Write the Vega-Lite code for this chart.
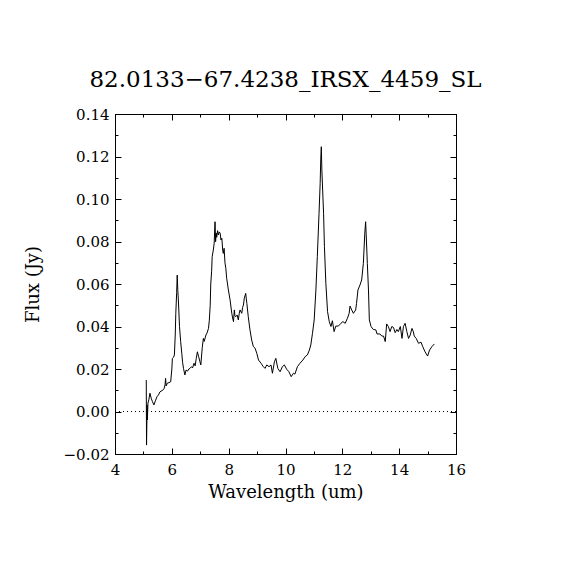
{
  "$schema": "https://vega.github.io/schema/vega-lite/v6.json",
  "autosize": "none",
  "width": 341,
  "height": 340,
  "padding": {"left": 115, "top": 114, "right": 114, "bottom": 116},
  "background": "white",
  "title": {
    "text": "82.0133−67.4238_IRSX_4459_SL",
    "font": "DejaVu Serif",
    "fontSize": 23,
    "fontWeight": "normal",
    "color": "black",
    "baseline": "alphabetic",
    "offset": -3
  },
  "data": {
    "values": [
      {"wavelength": 5.10, "flux": 0.0148},
      {"wavelength": 5.11, "flux": -0.0158},
      {"wavelength": 5.13, "flux": 0.0030},
      {"wavelength": 5.14, "flux": -0.0040},
      {"wavelength": 5.16, "flux": 0.0040},
      {"wavelength": 5.19, "flux": 0.0055},
      {"wavelength": 5.23, "flux": 0.0086},
      {"wavelength": 5.28, "flux": 0.0060},
      {"wavelength": 5.32, "flux": 0.0046},
      {"wavelength": 5.37, "flux": 0.0031},
      {"wavelength": 5.42, "flux": 0.0050},
      {"wavelength": 5.48, "flux": 0.0070},
      {"wavelength": 5.53, "flux": 0.0078},
      {"wavelength": 5.58, "flux": 0.0092},
      {"wavelength": 5.62, "flux": 0.0096},
      {"wavelength": 5.68, "flux": 0.0100},
      {"wavelength": 5.73, "flux": 0.0109},
      {"wavelength": 5.76, "flux": 0.0125},
      {"wavelength": 5.78, "flux": 0.0156},
      {"wavelength": 5.80, "flux": 0.0120},
      {"wavelength": 5.84, "flux": 0.0133},
      {"wavelength": 5.90, "flux": 0.0136},
      {"wavelength": 5.96, "flux": 0.0140},
      {"wavelength": 6.00, "flux": 0.0200},
      {"wavelength": 6.02, "flux": 0.0250},
      {"wavelength": 6.06, "flux": 0.0255},
      {"wavelength": 6.09, "flux": 0.0266},
      {"wavelength": 6.12, "flux": 0.0360},
      {"wavelength": 6.14, "flux": 0.0462},
      {"wavelength": 6.17, "flux": 0.0560},
      {"wavelength": 6.19, "flux": 0.0642},
      {"wavelength": 6.21, "flux": 0.0570},
      {"wavelength": 6.23, "flux": 0.0525},
      {"wavelength": 6.27, "flux": 0.0400},
      {"wavelength": 6.31, "flux": 0.0330},
      {"wavelength": 6.35, "flux": 0.0274},
      {"wavelength": 6.38, "flux": 0.0230},
      {"wavelength": 6.41, "flux": 0.0203},
      {"wavelength": 6.46, "flux": 0.0172},
      {"wavelength": 6.50, "flux": 0.0195},
      {"wavelength": 6.55, "flux": 0.0190},
      {"wavelength": 6.60, "flux": 0.0200},
      {"wavelength": 6.64, "flux": 0.0203},
      {"wavelength": 6.69, "flux": 0.0211},
      {"wavelength": 6.73, "flux": 0.0205},
      {"wavelength": 6.78, "flux": 0.0227},
      {"wavelength": 6.82, "flux": 0.0215},
      {"wavelength": 6.86, "flux": 0.0250},
      {"wavelength": 6.90, "flux": 0.0281},
      {"wavelength": 6.94, "flux": 0.0260},
      {"wavelength": 6.99, "flux": 0.0234},
      {"wavelength": 7.02, "flux": 0.0219},
      {"wavelength": 7.07, "flux": 0.0300},
      {"wavelength": 7.11, "flux": 0.0344},
      {"wavelength": 7.14, "flux": 0.0330},
      {"wavelength": 7.20, "flux": 0.0360},
      {"wavelength": 7.24, "flux": 0.0370},
      {"wavelength": 7.29, "flux": 0.0391},
      {"wavelength": 7.32, "flux": 0.0430},
      {"wavelength": 7.35, "flux": 0.0500},
      {"wavelength": 7.37, "flux": 0.0600},
      {"wavelength": 7.40, "flux": 0.0660},
      {"wavelength": 7.42, "flux": 0.0729},
      {"wavelength": 7.46, "flux": 0.0760},
      {"wavelength": 7.49, "flux": 0.0792},
      {"wavelength": 7.52, "flux": 0.0893},
      {"wavelength": 7.54, "flux": 0.0799},
      {"wavelength": 7.56, "flux": 0.0840},
      {"wavelength": 7.58, "flux": 0.0820},
      {"wavelength": 7.61, "flux": 0.0851},
      {"wavelength": 7.64, "flux": 0.0831},
      {"wavelength": 7.67, "flux": 0.0845},
      {"wavelength": 7.70, "flux": 0.0839},
      {"wavelength": 7.73, "flux": 0.0807},
      {"wavelength": 7.76, "flux": 0.0815},
      {"wavelength": 7.79, "flux": 0.0760},
      {"wavelength": 7.81, "flux": 0.0744},
      {"wavelength": 7.84, "flux": 0.0768},
      {"wavelength": 7.87, "flux": 0.0700},
      {"wavelength": 7.90, "flux": 0.0674},
      {"wavelength": 7.93, "flux": 0.0627},
      {"wavelength": 7.99, "flux": 0.0572},
      {"wavelength": 8.05, "flux": 0.0525},
      {"wavelength": 8.11, "flux": 0.0462},
      {"wavelength": 8.14, "flux": 0.0440},
      {"wavelength": 8.17, "flux": 0.0423},
      {"wavelength": 8.20, "flux": 0.0478},
      {"wavelength": 8.22, "flux": 0.0450},
      {"wavelength": 8.25, "flux": 0.0446},
      {"wavelength": 8.30, "flux": 0.0454},
      {"wavelength": 8.34, "flux": 0.0431},
      {"wavelength": 8.37, "flux": 0.0460},
      {"wavelength": 8.40, "flux": 0.0478},
      {"wavelength": 8.46, "flux": 0.0462},
      {"wavelength": 8.49, "flux": 0.0490},
      {"wavelength": 8.52, "flux": 0.0501},
      {"wavelength": 8.55, "flux": 0.0533},
      {"wavelength": 8.60, "flux": 0.0556},
      {"wavelength": 8.62, "flux": 0.0530},
      {"wavelength": 8.64, "flux": 0.0509},
      {"wavelength": 8.69, "flux": 0.0446},
      {"wavelength": 8.75, "flux": 0.0384},
      {"wavelength": 8.81, "flux": 0.0336},
      {"wavelength": 8.87, "flux": 0.0305},
      {"wavelength": 8.93, "flux": 0.0297},
      {"wavelength": 8.99, "flux": 0.0274},
      {"wavelength": 9.05, "flux": 0.0242},
      {"wavelength": 9.14, "flux": 0.0227},
      {"wavelength": 9.22, "flux": 0.0211},
      {"wavelength": 9.28, "flux": 0.0203},
      {"wavelength": 9.34, "flux": 0.0219},
      {"wavelength": 9.42, "flux": 0.0211},
      {"wavelength": 9.49, "flux": 0.0219},
      {"wavelength": 9.54, "flux": 0.0180},
      {"wavelength": 9.61, "flux": 0.0234},
      {"wavelength": 9.66, "flux": 0.0250},
      {"wavelength": 9.73, "flux": 0.0203},
      {"wavelength": 9.81, "flux": 0.0187},
      {"wavelength": 9.89, "flux": 0.0211},
      {"wavelength": 9.96, "flux": 0.0219},
      {"wavelength": 10.04, "flux": 0.0199},
      {"wavelength": 10.12, "flux": 0.0187},
      {"wavelength": 10.20, "flux": 0.0164},
      {"wavelength": 10.28, "flux": 0.0180},
      {"wavelength": 10.33, "flux": 0.0176},
      {"wavelength": 10.42, "flux": 0.0211},
      {"wavelength": 10.51, "flux": 0.0227},
      {"wavelength": 10.61, "flux": 0.0242},
      {"wavelength": 10.69, "flux": 0.0258},
      {"wavelength": 10.77, "flux": 0.0266},
      {"wavelength": 10.84, "flux": 0.0289},
      {"wavelength": 10.89, "flux": 0.0313},
      {"wavelength": 10.95, "flux": 0.0368},
      {"wavelength": 11.01, "flux": 0.0431},
      {"wavelength": 11.07, "flux": 0.0572},
      {"wavelength": 11.12, "flux": 0.0729},
      {"wavelength": 11.18, "flux": 0.0933},
      {"wavelength": 11.22, "flux": 0.1074},
      {"wavelength": 11.24, "flux": 0.1184},
      {"wavelength": 11.26, "flux": 0.1246},
      {"wavelength": 11.28, "flux": 0.1136},
      {"wavelength": 11.34, "flux": 0.0933},
      {"wavelength": 11.37, "flux": 0.0776},
      {"wavelength": 11.42, "flux": 0.0603},
      {"wavelength": 11.48, "flux": 0.0470},
      {"wavelength": 11.54, "flux": 0.0423},
      {"wavelength": 11.60, "flux": 0.0400},
      {"wavelength": 11.65, "flux": 0.0427},
      {"wavelength": 11.71, "flux": 0.0376},
      {"wavelength": 11.77, "flux": 0.0402},
      {"wavelength": 11.86, "flux": 0.0402},
      {"wavelength": 11.95, "flux": 0.0415},
      {"wavelength": 12.02, "flux": 0.0423},
      {"wavelength": 12.10, "flux": 0.0415},
      {"wavelength": 12.18, "flux": 0.0439},
      {"wavelength": 12.24, "flux": 0.0462},
      {"wavelength": 12.27, "flux": 0.0496},
      {"wavelength": 12.33, "flux": 0.0478},
      {"wavelength": 12.39, "flux": 0.0462},
      {"wavelength": 12.47, "flux": 0.0478},
      {"wavelength": 12.50, "flux": 0.0509},
      {"wavelength": 12.55, "flux": 0.0572},
      {"wavelength": 12.62, "flux": 0.0595},
      {"wavelength": 12.68, "flux": 0.0619},
      {"wavelength": 12.74, "flux": 0.0697},
      {"wavelength": 12.79, "flux": 0.0839},
      {"wavelength": 12.82, "flux": 0.0893},
      {"wavelength": 12.84, "flux": 0.0831},
      {"wavelength": 12.88, "flux": 0.0697},
      {"wavelength": 12.92, "flux": 0.0572},
      {"wavelength": 12.95, "flux": 0.0431},
      {"wavelength": 13.01, "flux": 0.0400},
      {"wavelength": 13.09, "flux": 0.0386},
      {"wavelength": 13.18, "flux": 0.0384},
      {"wavelength": 13.22, "flux": 0.0365},
      {"wavelength": 13.32, "flux": 0.0365},
      {"wavelength": 13.39, "flux": 0.0355},
      {"wavelength": 13.45, "flux": 0.0355},
      {"wavelength": 13.51, "flux": 0.0329},
      {"wavelength": 13.56, "flux": 0.0412},
      {"wavelength": 13.62, "flux": 0.0400},
      {"wavelength": 13.68, "flux": 0.0376},
      {"wavelength": 13.74, "flux": 0.0400},
      {"wavelength": 13.80, "flux": 0.0396},
      {"wavelength": 13.86, "flux": 0.0371},
      {"wavelength": 13.92, "flux": 0.0386},
      {"wavelength": 13.97, "flux": 0.0376},
      {"wavelength": 14.04, "flux": 0.0400},
      {"wavelength": 14.10, "flux": 0.0344},
      {"wavelength": 14.15, "flux": 0.0400},
      {"wavelength": 14.21, "flux": 0.0415},
      {"wavelength": 14.27, "flux": 0.0376},
      {"wavelength": 14.33, "flux": 0.0344},
      {"wavelength": 14.39, "flux": 0.0360},
      {"wavelength": 14.45, "flux": 0.0391},
      {"wavelength": 14.50, "flux": 0.0375},
      {"wavelength": 14.53, "flux": 0.0355},
      {"wavelength": 14.60, "flux": 0.0344},
      {"wavelength": 14.68, "flux": 0.0321},
      {"wavelength": 14.77, "flux": 0.0326},
      {"wavelength": 14.83, "flux": 0.0305},
      {"wavelength": 14.91, "flux": 0.0281},
      {"wavelength": 15.00, "flux": 0.0261},
      {"wavelength": 15.07, "flux": 0.0289},
      {"wavelength": 15.15, "flux": 0.0305},
      {"wavelength": 15.24, "flux": 0.0318}
    ]
  },
  "layer": [
    {
      "mark": {"type": "line", "color": "black", "strokeWidth": 1, "clip": true},
      "encoding": {
        "x": {
          "field": "wavelength",
          "type": "quantitative",
          "scale": {"domain": [4, 16], "nice": false, "zero": false},
          "axis": {
            "orient": "bottom",
            "title": "Wavelength (um)",
            "values": [4, 5, 6, 7, 8, 9, 10, 11, 12, 13, 14, 15, 16],
            "labelExpr": "datum.value % 2 == 0 ? datum.label : ''",
            "tickSize": {"condition": {"test": "datum.value % 2 == 0", "value": -6}, "value": -3},
            "labelPadding": 14,
            "titleY": 38,
            "titleBaseline": "middle"
          }
        },
        "y": {
          "field": "flux",
          "type": "quantitative",
          "scale": {"domain": [-0.02, 0.14], "nice": false, "zero": false},
          "axis": {
            "orient": "left",
            "title": "Flux (Jy)",
            "values": [-0.02, -0.01, 0, 0.01, 0.02, 0.03, 0.04, 0.05, 0.06, 0.07, 0.08, 0.09, 0.1, 0.11, 0.12, 0.13, 0.14],
            "format": ".2f",
            "labelExpr": "round(datum.value * 100) % 2 == 0 ? datum.label : ''",
            "tickSize": {"condition": {"test": "round(datum.value * 100) % 2 == 0", "value": -6}, "value": -3},
            "labelPadding": 12,
            "titleX": -82,
            "titleY": 170,
            "titleAngle": -90,
            "titleAlign": "center",
            "titleBaseline": "middle"
          }
        }
      }
    },
    {
      "mark": {"type": "rule", "color": "black", "strokeWidth": 1, "strokeDash": [1, 3]},
      "encoding": {
        "y": {
          "datum": 0,
          "type": "quantitative",
          "axis": {
            "orient": "right",
            "title": null,
            "values": [-0.02, -0.01, 0, 0.01, 0.02, 0.03, 0.04, 0.05, 0.06, 0.07, 0.08, 0.09, 0.1, 0.11, 0.12, 0.13, 0.14],
            "labels": false,
            "tickSize": {"condition": {"test": "round(datum.value * 100) % 2 == 0", "value": -6}, "value": -3}
          }
        },
        "x": {
          "datum": 4,
          "type": "quantitative",
          "axis": {
            "orient": "top",
            "title": null,
            "values": [4, 5, 6, 7, 8, 9, 10, 11, 12, 13, 14, 15, 16],
            "labels": false,
            "tickSize": {"condition": {"test": "datum.value % 2 == 0", "value": -6}, "value": -3}
          }
        },
        "x2": {"datum": 16}
      }
    }
  ],
  "resolve": {"axis": {"x": "independent", "y": "independent"}},
  "config": {
    "view": {"stroke": "black", "strokeWidth": 1},
    "axis": {
      "grid": false,
      "labelFlush": false,
      "domainColor": "black",
      "domainWidth": 1,
      "tickColor": "black",
      "tickWidth": 1,
      "labelFont": "DejaVu Serif",
      "labelFontSize": 15,
      "labelColor": "black",
      "titleFont": "DejaVu Serif",
      "titleFontSize": 18,
      "titleFontWeight": "normal",
      "titleColor": "black"
    }
  }
}
